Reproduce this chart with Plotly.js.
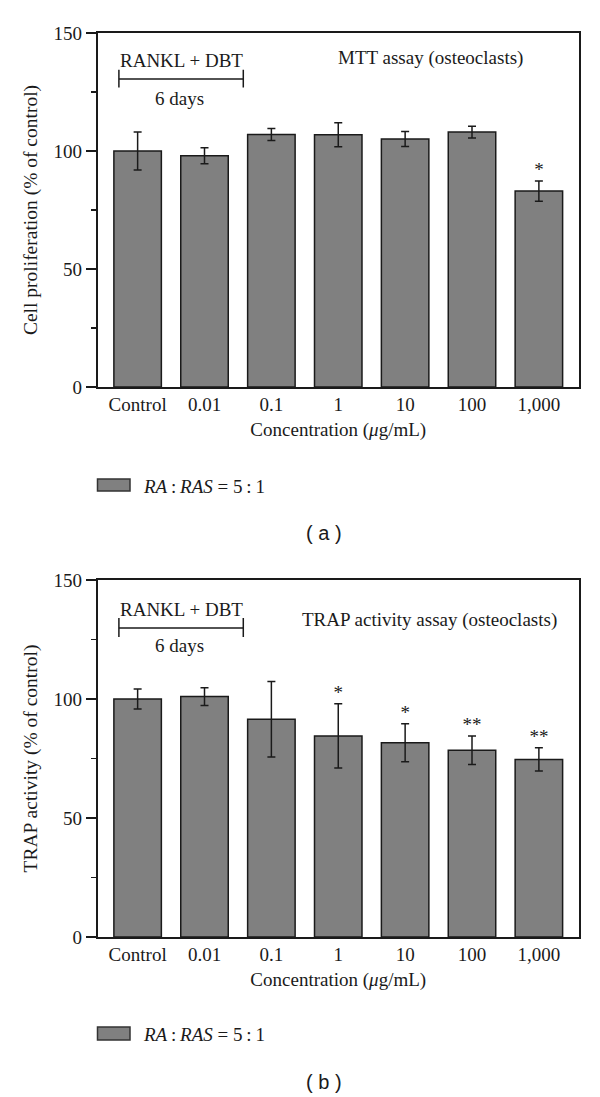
<!DOCTYPE html>
<html><head><meta charset="utf-8">
<script src="https://cdn.plot.ly/plotly-3.0.1.min.js"></script>
<style>html,body{margin:0;padding:0;background:#fff}</style>
</head><body><div id="chart" style="width:600px;height:1097px"></div>
<script>
// ---- data ----
const categories = ["Control", "0.01", "0.1", "1", "10", "100", "1,000"];
const mttValues  = [100, 98, 107, 106.9, 105.1, 108, 83];
const mttErrors  = [8, 3.4, 2.5, 5.1, 3.2, 2.5, 4.3];
const mttStars   = ["", "", "", "", "", "", "*"];
const trapValues = [100, 101, 91.5, 84.5, 81.6, 78.5, 74.6];
const trapErrors = [4.2, 3.7, 15.9, 13.5, 8, 6, 4.9];
const trapStars  = ["", "", "", "*", "*", "**", "**"];
const yTickVals  = [0, 50, 100, 150];
const yTickText  = ["0", "50", "100", "150"];
const seriesName = "<i>RA</i>\u2009:\u2009<i>RAS</i> = 5\u2009:\u20091";

// ---- styles ----
const SERIF = "Liberation Serif, Times New Roman, serif";
const SANS = "Liberation Sans, Arial, sans-serif";
const INK = "#1a1a1a";
const BARFILL = "#808080";
const H = 1097, W = 600;
const py = p => 1 - p / H;
const px = p => p / W;

function barTrace(vals, errs, xa, ya) {
  return {
    type: "bar", x: categories, y: vals, xaxis: xa, yaxis: ya,
    name: seriesName, showlegend: false,
    marker: {color: BARFILL, line: {color: INK, width: 1.5}},
    error_y: {type: "data", array: errs, visible: true, color: INK, thickness: 1.5, width: 4},
    hoverinfo: "x+y"
  };
}
function starTrace(vals, errs, stars, xa, ya) {
  return {
    type: "scatter", mode: "text", x: categories,
    y: vals.map((v, i) => v + errs[i]), text: stars,
    textposition: "top center", xaxis: xa, yaxis: ya,
    textfont: {family: SERIF, size: 19, color: INK},
    showlegend: false, hoverinfo: "skip", cliponaxis: false
  };
}

const data = [
  barTrace(mttValues, mttErrors, "x", "y"),
  starTrace(mttValues, mttErrors, mttStars, "x", "y"),
  barTrace(trapValues, trapErrors, "x2", "y2"),
  starTrace(trapValues, trapErrors, trapStars, "x2", "y2")
];

function xAxis(anchor) {
  return {
    anchor: anchor, domain: [px(97.5), px(579)], type: "category",
    range: [-0.6, 6.6], showline: true, mirror: true, linecolor: INK, linewidth: 1.6,
    ticks: "", showgrid: false, zeroline: false, automargin: false,
    tickfont: {family: SERIF, size: 19, color: INK},
    title: {text: "Concentration (<i>\u03bc</i>g/mL)", font: {family: SERIF, size: 19, color: INK}, standoff: 8}
  };
}
function yAxis(anchor, dom, title) {
  return {
    anchor: anchor, domain: dom, range: [0, 150],
    tickvals: yTickVals, ticktext: yTickText,
    ticks: "outside", ticklen: 10, tickwidth: 1.5, tickcolor: INK,
    minor: {dtick: 25, ticks: "outside", ticklen: 5, tickwidth: 1.5, tickcolor: INK},
    showline: true, mirror: true, linecolor: INK, linewidth: 1.6,
    showgrid: false, zeroline: false, automargin: false,
    tickfont: {family: SERIF, size: 19, color: INK},
    title: {text: title, font: {family: SERIF, size: 19.5, color: INK}, standoff: 11}
  };
}

function panelDecor(xa, ya, heading, hx, hy, brY, capLo, capHi, rkY, dayY) {
  const xr = xa, yr = ya;
  const shapes = [
    {type: "line", xref: xr, yref: yr, x0: -0.28, x1: 1.58, y0: brY, y1: brY, line: {color: INK, width: 1.5}},
    {type: "line", xref: xr, yref: yr, x0: -0.28, x1: -0.28, y0: capLo, y1: capHi, line: {color: INK, width: 1.5}},
    {type: "line", xref: xr, yref: yr, x0: 1.58, x1: 1.58, y0: capLo, y1: capHi, line: {color: INK, width: 1.5}}
  ];
  const ann = [
    {xref: xr, yref: yr, x: 0.65, y: rkY, text: "RANKL + DBT", showarrow: false,
     font: {family: SERIF, size: 19, color: INK}, xanchor: "center", yanchor: "middle"},
    {xref: xr, yref: yr, x: 0.62, y: dayY, text: "6 days", showarrow: false,
     font: {family: SERIF, size: 19, color: INK}, xanchor: "center", yanchor: "middle"},
    {xref: xr, yref: yr, x: hx, y: hy, text: heading, showarrow: false,
     font: {family: SERIF, size: 19, color: INK}, xanchor: "center", yanchor: "middle"}
  ];
  return {shapes, ann};
}

const topDecor = panelDecor("x", "y", "MTT assay (osteoclasts)", 4.38, 139.6, 130.5, 126.9, 134.4, 138.5, 122.4);
const botDecor = panelDecor("x2", "y2", "TRAP activity assay (osteoclasts)", 4.37, 133.2, 129.8, 126.1, 134.0, 137.4, 122.3);

function legendItems(boxTop, boxBot, label, labelY, letterY) {
  return {
    shapes: [{type: "rect", xref: "paper", yref: "paper", x0: px(97.5), x1: px(130), y0: py(boxBot), y1: py(boxTop),
              fillcolor: BARFILL, line: {color: "#333", width: 1.5}}],
    ann: [
      {xref: "paper", yref: "paper", x: px(141), y: py(labelY), text: seriesName, showarrow: false,
       font: {family: SERIF, size: 19, color: INK}, xanchor: "left", yanchor: "middle"},
      {xref: "paper", yref: "paper", x: px(323.5), y: py(letterY), text: label, showarrow: false,
       font: {family: SANS, size: 20, color: INK}, xanchor: "center", yanchor: "middle"}
    ]
  };
}
const legA = legendItems(479, 491, "( a )", 486, 533);
const legB = legendItems(1027, 1040, "( b )", 1034, 1082);

const layout = {
  width: W, height: H, margin: {l: 0, r: 0, t: 0, b: 0},
  paper_bgcolor: "#fff", plot_bgcolor: "#fff",
  showlegend: false, bargap: 0.29,
  xaxis: xAxis("y"),
  yaxis: yAxis("x", [py(387), py(33)], "Cell proliferation (% of control)"),
  xaxis2: xAxis("y2"),
  yaxis2: yAxis("x2", [py(937), py(580)], "TRAP activity (% of control)"),
  shapes: [...topDecor.shapes, ...botDecor.shapes, ...legA.shapes, ...legB.shapes],
  annotations: [...topDecor.ann, ...botDecor.ann, ...legA.ann, ...legB.ann]
};

Plotly.newPlot("chart", data, layout, {displayModeBar: false, staticPlot: true});
</script></body></html>
